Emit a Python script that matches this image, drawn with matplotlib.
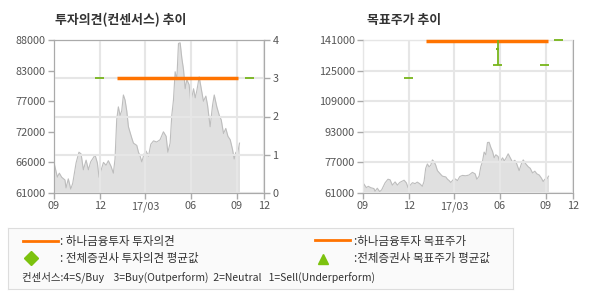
import numpy as np
import matplotlib
matplotlib.use('Agg')
from matplotlib import pyplot as plt
from matplotlib.ticker import FuncFormatter

plt.rcParams['font.family'] = ['Noto Sans CJK KR', 'DejaVu Sans']

# months counted from 2016-09
month_ticks = [0, 3, 6, 9, 12, 13.8]
month_labels = ['09', '12', '17/03', '06', '09', '12']

price_x = [0.04, 0.22, 0.35, 0.50, 0.72, 0.79, 0.94, 1.10, 1.23, 1.45, 1.64, 1.78,
           1.93, 2.11, 2.26, 2.41, 2.70, 2.85, 2.96, 3.07, 3.25, 3.42, 3.57, 3.75,
           3.90, 4.01, 4.12, 4.23, 4.34, 4.45, 4.56, 4.67, 4.78, 4.89, 5.11, 5.22,
           5.44, 5.55, 5.66, 5.77, 5.92, 6.05, 6.21, 6.36, 6.54, 6.75, 6.97, 7.19,
           7.37, 7.48, 7.63, 7.74, 7.85, 7.96, 8.07, 8.18, 8.29, 8.40, 8.51, 8.62,
           8.73, 8.88, 8.99, 9.17, 9.28, 9.39, 9.54, 9.67, 9.82, 9.98, 10.09, 10.26,
           10.42, 10.53, 10.70, 10.86, 10.99, 11.14, 11.29, 11.43, 11.58, 11.73, 11.84,
           11.95, 12.06, 12.19]
price = [65900, 63800, 64500, 63800, 63300, 61900, 63500, 61700, 62700, 66300, 68200, 67900,
         65100, 66800, 65100, 66500, 67700, 66300, 63800, 64800, 66400, 65900, 66700, 65700,
         64500, 67000, 73900, 76200, 74700, 75500, 78300, 77400, 75500, 72700, 70700, 69800,
         69400, 68200, 67500, 66500, 67900, 68400, 67500, 69600, 70200, 70000, 70400, 71800,
         71000, 68200, 69800, 74700, 77400, 82400, 81000, 87400, 87500, 84800, 82800, 79400,
         81000, 80100, 77000, 79400, 77800, 79100, 81500, 79500, 77200, 78100, 76500, 72700,
         76500, 78300, 76200, 74700, 73900, 71500, 72400, 71000, 70400, 68700, 67000,
         68200, 67900, 69800]

# opinion (right axis of left chart)
hana_op_x = [4.12, 12.12]
hana_op = [3, 3]
cons_op_x = [3.0, 12.87]
cons_op = [3, 3]

# target price
hana_tp_x = [4.14, 12.17]
hana_tp = [140600, 140600]
cons_tp_x = [2.98, 8.85, 11.92, 12.85]
cons_tp = [121000, 128000, 128000, 141000]
cons_tp_top = 141000
cons_tp_mark = 136300

ORANGE = '#ff7300'
GREEN = '#77b51a'
FILL = '#e0e0e0'
EDGE = '#bdbdbd'
GRID = '#e6e6e6'
SPINE = '#aaaaaa'
TXT = '#555555'

fig = plt.figure(figsize=(5.9, 3.0), dpi=100)


def style_x(ax):
    ax.set_xlim(0, 13.8)
    ax.set_xticks(month_ticks)
    ax.set_xticklabels(month_labels)
    for s in ax.spines.values():
        s.set_color(SPINE)
    ax.tick_params(axis='both', colors=SPINE, labelcolor=TXT, labelsize=7.8,
                   length=4, width=1, pad=2)


# ---- left chart
ax = fig.add_axes([54 / 590, 107 / 300, 210 / 590, 153 / 300])
ax.fill_between(price_x, price, 61000, color=FILL, lw=0, zorder=1)
ax.plot(price_x, price, color=EDGE, lw=0.8, zorder=1.5)
ax.set_ylim(61000, 88000)
ax.set_yticks(np.linspace(61000, 88000, 6))
ax.yaxis.set_major_formatter(FuncFormatter(lambda v, p: '%d' % (round(v / 1000) * 1000)))
style_x(ax)
ax.set_axisbelow(False)
ax.xaxis.grid(True, color=GRID, lw=1.5)
ax.yaxis.grid(False)

ax2 = ax.twinx()
ax2.set_ylim(0, 4)
ax2.set_yticks([0, 1, 2, 3, 4])
ax2.yaxis.grid(True, color=GRID, lw=1.5, zorder=0)
ax2.set_axisbelow(True)
style_x(ax2)
ax2.plot(hana_op_x, hana_op, color=ORANGE, lw=2.5, solid_capstyle='butt', zorder=3)
ax2.hlines(cons_op, [x - 0.3 for x in cons_op_x], [x + 0.3 for x in cons_op_x],
           color=GREEN, lw=1.3, zorder=3)

fig.text(55 / 590, 1 - 20 / 300, '투자의견(컨센서스) 추이', fontsize=9.3,
         fontweight='bold', color='#333333', va='center')

# ---- right chart
bx = fig.add_axes([363 / 590, 107 / 300, 210 / 590, 153 / 300])
bx.fill_between(price_x, price, 61000, color=FILL, lw=0, zorder=1)
bx.plot(price_x, price, color=EDGE, lw=0.8, zorder=1.5)
bx.set_ylim(61000, 141000)
bx.set_yticks(np.linspace(61000, 141000, 6))
bx.yaxis.set_major_formatter(FuncFormatter(lambda v, p: '%d' % v))
style_x(bx)
bx.set_axisbelow(False)
bx.grid(True, color=GRID, lw=1.5)
bx.plot(hana_tp_x, hana_tp, color=ORANGE, lw=2.5, solid_capstyle='butt', zorder=3,
        clip_on=False)
bx.hlines(cons_tp, [x - 0.28 for x in cons_tp_x], [x + 0.28 for x in cons_tp_x],
          color=GREEN, lw=1.3, zorder=3, clip_on=False)
bx.vlines(cons_tp_x[1], cons_tp[1], cons_tp_top, color=GREEN, lw=1.3, zorder=3)
bx.hlines(cons_tp_mark, cons_tp_x[1] - 0.1, cons_tp_x[1] + 0.1, color=GREEN, lw=1.5, zorder=3)

fig.text(367 / 590, 1 - 20 / 300, '목표주가 추이', fontsize=9.3,
         fontweight='bold', color='#333333', va='center')

# ---- legend box
lg = fig.add_axes([8 / 590, 1 - 289 / 300, 505 / 590, 61 / 300])
lg.set_xlim(0, 505)
lg.set_ylim(61, 0)
lg.set_xticks([])
lg.set_yticks([])
lg.set_facecolor('#fafafa')
for s in lg.spines.values():
    s.set_color('#dddddd')
lg.plot([15, 50], [13, 13], color=ORANGE, lw=2)
lg.text(52, 13, ': 하나금융투자 투자의견', fontsize=8.3, color='#333333', va='center')
lg.plot([23], [30], marker='D', color='#7cc20e', ms=7, ls='none')
lg.text(52, 30, ': 전체증권사 투자의견 평균값', fontsize=8.3, color='#333333', va='center')
lg.plot([307, 342], [12, 12], color=ORANGE, lw=2)
lg.text(346, 13, ':하나금융투자 목표주가', fontsize=8.3, color='#333333', va='center')
lg.plot([315], [31], marker='^', color='#7cc20e', ms=7, ls='none')
lg.text(346, 30, ':전체증권사 목표주가 평균값', fontsize=8.3, color='#333333', va='center')
lg.text(14, 49, '컨센서스:4=S/Buy    3=Buy(Outperform)  2=Neutral   1=Sell(Underperform)',
        fontsize=7.5, color='#333333', va='center')

fig.savefig('out.png', dpi=100)
